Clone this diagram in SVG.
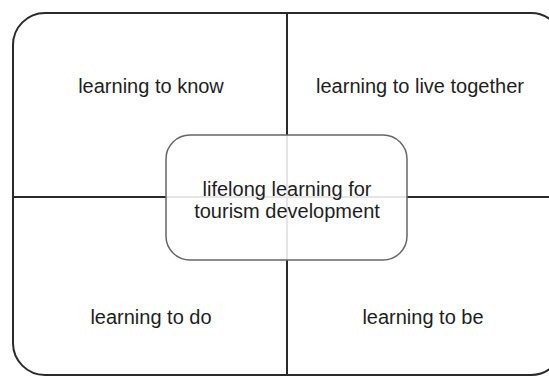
<svg xmlns="http://www.w3.org/2000/svg" width="549" height="378" viewBox="0 0 549 378">
<style>
.t{font-family:"Liberation Sans",Arial,sans-serif;font-size:20px;fill:#1e1e1e;text-anchor:middle}
.ln{stroke:#2a2a2a;stroke-width:2;fill:none}
</style>
<rect width="549" height="378" fill="#fff"/>
<g id="frame">
<rect x="13" y="13" width="550" height="362" rx="32" class="ln" stroke="#444"/>
</g>
<g id="connectors">
<line x1="287" y1="13" x2="287" y2="375" class="ln"/>
<line x1="13" y1="197" x2="549" y2="197" class="ln"/>
</g>
<g id="know"><text class="t" x="151" y="93">learning to know</text></g>
<g id="together"><text class="t" x="420" y="93">learning to live together</text></g>
<g id="do"><text class="t" x="151" y="324">learning to do</text></g>
<g id="be"><text class="t" x="423" y="324">learning to be</text></g>
<g id="center">
<rect x="166" y="135" width="241" height="125" rx="24" fill="#fff" fill-opacity="0.88" stroke="#666" stroke-width="1.5"/>
<text class="t" x="287" y="196">lifelong learning for</text>
<text class="t" x="287" y="218">tourism development</text>
</g>
</svg>
